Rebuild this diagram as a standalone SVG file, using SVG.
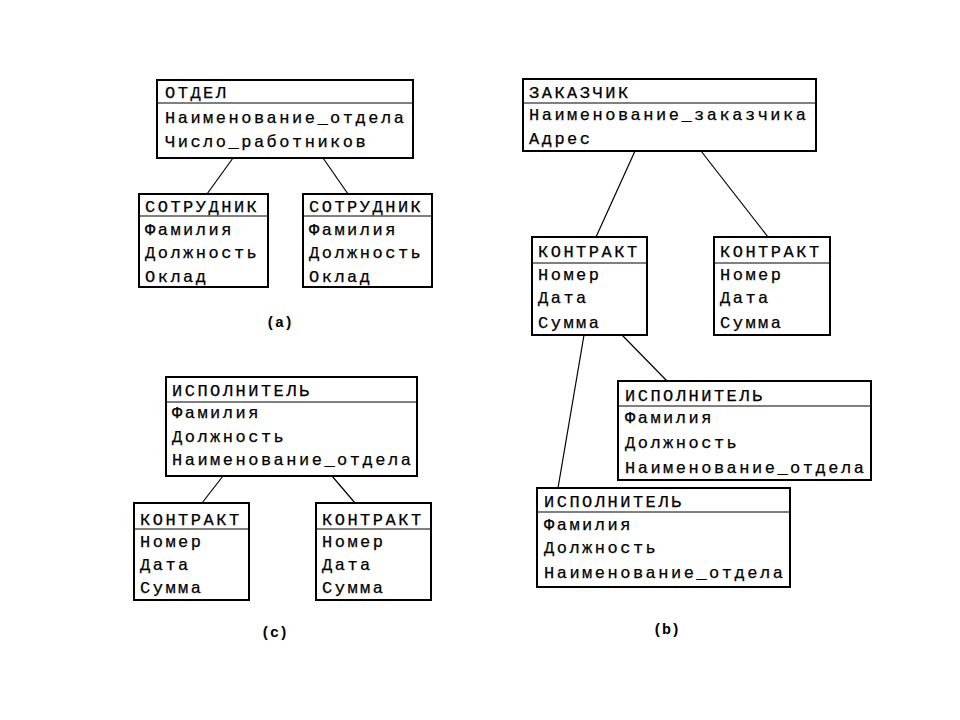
<svg xmlns="http://www.w3.org/2000/svg" width="960" height="720" viewBox="0 0 960 720">
<style>
.box{fill:#fff;stroke:#000;stroke-width:2}
.div{stroke:#000;stroke-width:1}
.con{stroke:#000;stroke-width:1.2;fill:none}
text{font-family:"Liberation Mono","DejaVu Sans Mono",monospace;font-size:17px;letter-spacing:2.5px;fill:#000;stroke:#000;stroke-width:0.25}
.lbl{font-family:"Liberation Mono",monospace;font-size:15px;font-weight:bold;letter-spacing:0;stroke:none}
</style>
<rect width="960" height="720" fill="#fff"/>
<g id="connectors">
<line class="con" x1="233" y1="158" x2="207" y2="194"/>
<line class="con" x1="323" y1="158" x2="348" y2="194"/>
<line class="con" x1="635" y1="151" x2="596" y2="237"/>
<line class="con" x1="701" y1="151" x2="768" y2="237"/>
<line class="con" x1="584" y1="335" x2="558" y2="488"/>
<line class="con" x1="622" y1="335" x2="667" y2="381"/>
<line class="con" x1="223" y1="476" x2="202" y2="503"/>
<line class="con" x1="332" y1="476" x2="355" y2="503"/>
</g>
<g id="otdel">
<rect class="box" x="157" y="80" width="256" height="78"/>
<line class="div" x1="157" y1="103" x2="413" y2="103"/>
<text x="165" y="98">ОТДЕЛ</text>
<text x="165" y="123">Наименование_отдела</text>
<text x="165" y="147">Число_работников</text>
</g>
<g id="sotr1">
<rect class="box" x="139" y="194" width="129" height="93"/>
<line class="div" x1="139" y1="216" x2="268" y2="216"/>
<text x="145" y="212">СОТРУДНИК</text>
<text x="145" y="235">Фамилия</text>
<text x="145" y="258">Должность</text>
<text x="145" y="282">Оклад</text>
</g>
<g id="sotr2">
<rect class="box" x="303" y="194" width="129" height="93"/>
<line class="div" x1="303" y1="216" x2="432" y2="216"/>
<text x="309" y="212">СОТРУДНИК</text>
<text x="309" y="235">Фамилия</text>
<text x="309" y="258">Должность</text>
<text x="309" y="282">Оклад</text>
</g>
<text class="lbl" x="266" y="327">(a)</text>
<g id="zakazchik">
<rect class="box" x="523" y="79" width="293" height="72"/>
<line class="div" x1="523" y1="103" x2="816" y2="103"/>
<text x="529" y="98">ЗАКАЗЧИК</text>
<text x="529" y="120">Наименование_заказчика</text>
<text x="529" y="144">Адрес</text>
</g>
<g id="kontrakt_b1">
<rect class="box" x="532" y="237" width="115" height="98"/>
<line class="div" x1="532" y1="263" x2="647" y2="263"/>
<text x="538" y="257">КОНТРАКТ</text>
<text x="538" y="280">Номер</text>
<text x="538" y="303">Дата</text>
<text x="538" y="328">Сумма</text>
</g>
<g id="kontrakt_b2">
<rect class="box" x="714" y="237" width="116" height="98"/>
<line class="div" x1="714" y1="263" x2="830" y2="263"/>
<text x="720" y="257">КОНТРАКТ</text>
<text x="720" y="280">Номер</text>
<text x="720" y="303">Дата</text>
<text x="720" y="328">Сумма</text>
</g>
<g id="isp_b1">
<rect class="box" x="618" y="381" width="253" height="99"/>
<line class="div" x1="618" y1="406" x2="871" y2="406"/>
<text x="625" y="401">ИСПОЛНИТЕЛЬ</text>
<text x="625" y="423">Фамилия</text>
<text x="625" y="448">Должность</text>
<text x="625" y="473">Наименование_отдела</text>
</g>
<g id="isp_b2">
<rect class="box" x="537" y="488" width="253" height="99"/>
<line class="div" x1="537" y1="512" x2="790" y2="512"/>
<text x="544" y="507">ИСПОЛНИТЕЛЬ</text>
<text x="544" y="530">Фамилия</text>
<text x="544" y="553">Должность</text>
<text x="544" y="578">Наименование_отдела</text>
</g>
<text class="lbl" x="653" y="634">(b)</text>
<g id="isp_c">
<rect class="box" x="166" y="377" width="251" height="99"/>
<line class="div" x1="166" y1="402" x2="417" y2="402"/>
<text x="172" y="396">ИСПОЛНИТЕЛЬ</text>
<text x="172" y="418">Фамилия</text>
<text x="172" y="442">Должность</text>
<text x="172" y="465">Наименование_отдела</text>
</g>
<g id="kontrakt_c1">
<rect class="box" x="134" y="503" width="115" height="97"/>
<line class="div" x1="134" y1="529" x2="249" y2="529"/>
<text x="140" y="525">КОНТРАКТ</text>
<text x="140" y="547">Номер</text>
<text x="140" y="570">Дата</text>
<text x="140" y="593">Сумма</text>
</g>
<g id="kontrakt_c2">
<rect class="box" x="316" y="503" width="115" height="97"/>
<line class="div" x1="316" y1="529" x2="431" y2="529"/>
<text x="322" y="525">КОНТРАКТ</text>
<text x="322" y="547">Номер</text>
<text x="322" y="570">Дата</text>
<text x="322" y="593">Сумма</text>
</g>
<text class="lbl" x="261" y="637">(c)</text>
</svg>
